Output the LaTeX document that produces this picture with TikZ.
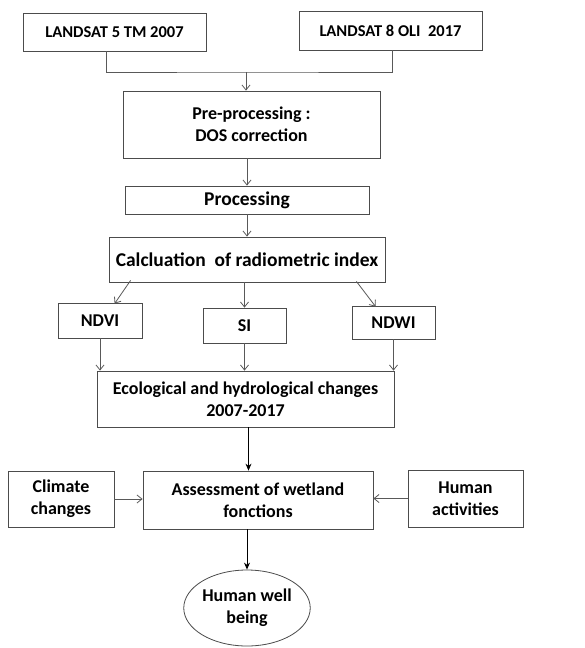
\documentclass[tikz,border=0pt]{standalone}
\usepackage{fontspec}
\setmainfont{Carlito}
\usetikzlibrary{arrows.meta,shapes.geometric}

\tikzset{
	box/.style={draw=black!70, line width=0.8pt, align=center, inner sep=0pt,
		font=\bfseries\fontsize{18}{22}\selectfont},
	link/.style={draw=black!65, line width=0.8pt, -{Straight Barb[length=5pt,width=8pt]}},
	heavy/.style={draw=black, line width=0.9pt, -{Stealth[length=7pt,width=6pt]}}
}

\begin{document}
\begin{tikzpicture}[x=1pt,y=-1pt]
					\fill[white] (0,0) rectangle (584,648);
					\useasboundingbox (0,0) rectangle (584,648);

					% input images
					\node[box, minimum width=183, minimum height=38, font=\bfseries\fontsize{16.5}{20}\selectfont] (l5) at (114.5,32) {LANDSAT 5 TM 2007};
					\node[box, minimum width=183, minimum height=39, font=\bfseries\fontsize{16.5}{20}\selectfont] (l8) at (390.5,30.5) {LANDSAT 8 OLI~~2017};
					\coordinate (join) at (246,72);

					% processing chain
					\node[box, minimum width=257, minimum height=67] (pre) at (251.5,124.5) {Pre-processing :\\DOS correction};
					\node[box, minimum width=244, minimum height=28, font=\bfseries\fontsize{19.5}{22}\selectfont] (proc) at (247,200) {Processing};
					\node[box, minimum width=276, minimum height=45, font=\bfseries\fontsize{19.5}{22}\selectfont] (calc) at (247,259.5) {Calcluation~~of radiometric index};

					% indices
					\node[box, minimum width=84, minimum height=35] (ndvi) at (100,320.5) {NDVI};
					\node[box, minimum width=83, minimum height=35] (si) at (244.5,325.5) {SI};
					\node[box, minimum width=83, minimum height=33] (ndwi) at (393.5,322.5) {NDWI};

					\node[box, minimum width=297, minimum height=56] (eco) at (245.5,399) {Ecological and hydrological changes\\2007-2017};

					% assessment
					\node[box, minimum width=230, minimum height=58] (assess) at (258,500) {Assessment of wetland\\fonctions};
					\node[box, minimum width=106, minimum height=56] (clim) at (61,499) {Climate\\changes};
					\node[box, minimum width=115, minimum height=57] (hum) at (465.5,498.5) {Human\\activities};
					\node[box, ellipse, minimum width=122, minimum height=76] (well) at (247,608) {Human well\\being};

					\draw[draw=black!65, line width=0.8pt] ([xshift=-8.5]l5.south) |- (join) -| ([xshift=1.5]l8.south);
					\draw[link] (join) -- (join |- pre.north);
					\draw[link] (pre.south -| proc.north) -- (proc.north);
					\draw[link] (proc.south) -- (calc.north);

					\draw[link] ([xshift=22,yshift=2]calc.south west) -- ([xshift=57,yshift=-1]ndvi.north west);
					\draw[link] (calc.south -| si.north) -- (si.north);
					\draw[link] ([xshift=-29,yshift=1]calc.south east) -- ([xshift=24,yshift=-1]ndwi.north west);

					\foreach \i in {ndvi, si, ndwi}{
							\draw[link] (\i.south) -- (\i.south |- eco.north);
						}

					\draw[heavy] ([xshift=3]eco.south) -- ([xshift=3]eco.south |- assess.north);
					\draw[link] (clim.east) -- (clim.east -| assess.west);
					\draw[link] (hum.west) -- (hum.west -| assess.east);
					\draw[heavy] (assess.south -| well.north) -- (well.north);
				\end{tikzpicture}
\end{document}
